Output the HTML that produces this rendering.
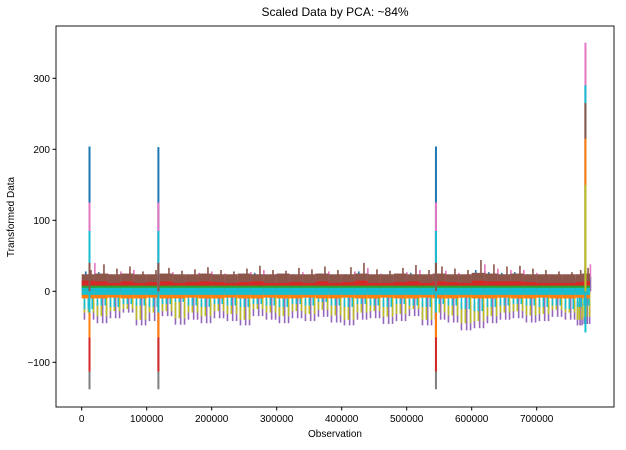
<!DOCTYPE html>
<html><head><style>
body{margin:0;background:#fff;font-family:"Liberation Sans",sans-serif}
</style></head><body>
<svg id="chart" width="626" height="445" xmlns="http://www.w3.org/2000/svg" font-family="Liberation Sans, sans-serif">
<text x="335" y="16" font-size="12" text-anchor="middle">Scaled Data by PCA: ~84%</text>
<text x="335" y="437" font-size="10" text-anchor="middle">Observation</text>
<text x="14" y="217" font-size="10" text-anchor="middle" transform="rotate(-90 14 217)">Transformed Data</text>
<g id="marks"></g>
<g id="axes"></g>
</svg>
<script>
const binStart=[0,20000,40000,60000,80000,100000,120000,140000,160000,180000,200000,220000,240000,260000,280000,300000,320000,340000,360000,380000,400000,420000,440000,460000,480000,500000,520000,540000,560000,580000,600000,620000,640000,660000,680000,700000,720000,740000,760000,770000];
const brownHi=[30,38,32,35,28,30,33,29,31,34,30,28,32,36,30,29,33,31,35,30,34,40,31,29,33,37,30,35,32,30,44,38,35,36,32,30,28,27,30,33];
const brownBand=[24,25,24,25,24,24,25,24,24,25,24,24,25,24,24,25,24,24,25,24,24,25,24,24,25,24,24,25,24,24,26,25,24,25,24,24,24,24,24,25];
const pinkHi=[40,25,28,30,22,24,27,22,26,28,25,22,27,30,24,23,27,25,28,24,28,33,25,22,27,30,24,29,26,24,38,32,30,30,26,24,22,20,25,38];
const blueHi=[28,27,22,24,20,22,24,20,22,25,22,20,23,26,22,21,24,22,25,21,24,28,22,20,24,26,22,25,23,22,30,27,26,27,24,22,20,20,22,30];
const redHi=[15,14,12,14,12,13,14,12,13,14,13,12,13,14,12,12,13,12,14,12,13,15,12,12,13,14,12,14,13,12,15,14,14,14,13,12,12,12,13,14];
const purpleLo=[-40,-45,-38,-30,-48,-42,-35,-47,-40,-45,-38,-42,-48,-35,-40,-45,-38,-42,-36,-44,-48,-40,-38,-46,-42,-35,-48,-40,-44,-55,-52,-45,-40,-38,-44,-42,-36,-40,-48,-46];
const oliveLo=[-30,-35,-28,-25,-40,-30,-28,-38,-30,-35,-28,-32,-40,-25,-30,-35,-28,-32,-26,-34,-40,-30,-28,-36,-32,-25,-40,-30,-34,-45,-42,-35,-30,-28,-34,-32,-26,-30,-40,-36];
const tealLo=[-25,-20,-22,-18,-20,-22,-18,-15,-20,-22,-18,-20,-22,-18,-20,-22,-18,-20,-15,-20,-22,-18,-20,-22,-18,-20,-22,-18,-20,-25,-28,-22,-20,-18,-20,-22,-20,-25,-22,-20];
const orangeLo=[-10,-10,-9,-10,-10,-9,-10,-10,-9,-10,-10,-9,-10,-10,-9,-10,-10,-9,-10,-10,-9,-10,-10,-9,-10,-10,-9,-10,-10,-9,-10,-10,-9,-10,-10,-9,-10,-10,-9,-10];
const spikeX=[12000,118000,545000,775000];
const spikeBlue=[204,203,204,290];
const spikePink=[125,125,125,350];
const spikeBrown=[40,40,40,265];
const spikeOrangeHi=[0,0,0,215];
const spikeOliveHi=[0,0,0,150];
const spikeGray=[-138,-138,-138,-20];
const spikeRed=[-113,-113,-113,-10];
const spikeOrange=[-65,-65,-65,-10];
const spikeCyanLo=[-30,-30,-30,-58];
const xTicks=[0,100000,200000,300000,400000,500000,600000,700000];
const yTicks=[-100,0,100,200,300];

const X0=56,X1=614,Y0=26,Y1=407;
const xs=v=>81.7+v*65/100000;
const ys=v=>291.3-v*0.71;
const NS="http://www.w3.org/2000/svg";
const marks=document.getElementById('marks'),axes=document.getElementById('axes');
function mk(tag,attrs,parent){const e=document.createElementNS(NS,tag);for(const k in attrs)e.setAttribute(k,attrs[k]);parent.appendChild(e);return e;}
function band(arr,base,color,name,narrow,offs){
  for(let i=0;i<binStart.length;i++){
    const x0=xs(binStart[i]),x1=i+1<binStart.length?xs(binStart[i+1]):xs(782000);
    const a=ys(Math.max(arr[i],base)),b=ys(Math.min(arr[i],base));
    if(narrow){
      const w=x1-x0;
      [0.15,0.55,0.85].forEach((f,k)=>{
        const ff=(f+offs)%1;
        const top=k===1?a:a+(b-a)*0.35;
        const r=mk('rect',{x:x0+w*ff,y:top,width:1.6,height:Math.max(b-top,0.5),fill:color},marks);
        
        
      });
    } else {
      const r=mk('rect',{x:x0,y:a,width:x1-x0,height:Math.max(b-a,0.5),fill:color},marks);
      
      
    }
  }
}
band(purpleLo,0,'#9467bd','purple-series',true,0);
band(oliveLo,0,'#bcbd22','olive-series',true,0.3);
band(tealLo,0,'#17becf','cyan-low-series',true,0.6);
band(brownHi,0,'#8c564b','brown-spikes',true,0.1);
band(pinkHi,0,'#e377c2','pink-series',true,0.4);
band(blueHi,0,'#1f77b4','blue-series',true,0.7);
band(brownBand,0,'#8c564b','brown-series',false,0);
band(orangeLo,0,'#ff7f0e','orange-series',false,0);
band(redHi,7,'#d62728','red-series',false,0);
band(binStart.map(()=>8),4,'#2ca02c','green-series',false,0);
band(binStart.map(()=>5),-5,'#17becf','cyan-series',false,0);
function spike(vals,base,color,name){
  for(let i=0;i<spikeX.length;i++){
    const a=ys(Math.max(vals[i],base)),b=ys(Math.min(vals[i],base));
    const l=mk('line',{x1:xs(spikeX[i]),x2:xs(spikeX[i]),y1:a,y2:b,stroke:color,'stroke-width':2},marks);
    
    
  }
}
spike(spikeGray,0,'#7f7f7f','gray-spike');
spike(spikeRed,0,'#d62728','red-spike');
spike(spikeOrange,0,'#ff7f0e','orange-spike');
spike(spikeCyanLo,0,'#17becf','cyan-low-spike');
spike(spikePink,0,'#e377c2','pink-spike');
spike(spikeBlue,0,'#1f77b4','blue-spike');
spike(spikePink.map((v,i)=>Math.min(v,spikeBlue[i])),0,'#e377c2','pink-spike-mid');
spike(spikeBlue.map((v,i)=>i<3?85:290),0,'#17becf','cyan-spike');
spike(spikeBrown,0,'#8c564b','brown-spike');
spike(spikeOrangeHi,0,'#ff7f0e','orange-high-spike');
spike(spikeOliveHi,0,'#bcbd22','olive-spike');
const frame=mk('rect',{x:X0,y:Y0,width:X1-X0,height:Y1-Y0,fill:'none',stroke:'#000','stroke-width':0.9},axes);


xTicks.forEach(v=>{
  const x=xs(v);
  mk('line',{x1:x,x2:x,y1:Y1,y2:Y1+3.5,stroke:'#000'},axes);
  const t=mk('text',{x:x,y:Y1+15,'font-size':10,'text-anchor':'middle'},axes);
  t.textContent=v;
  
  
});
yTicks.forEach(v=>{
  const y=ys(v);
  mk('line',{x1:X0-3.5,x2:X0,y1:y,y2:y,stroke:'#000'},axes);
  const t=mk('text',{x:X0-6,y:y+3.5,'font-size':10,'text-anchor':'end'},axes);
  t.textContent=String(v).replace('-','\u2212');
  
  
});
</script>
</body></html>
